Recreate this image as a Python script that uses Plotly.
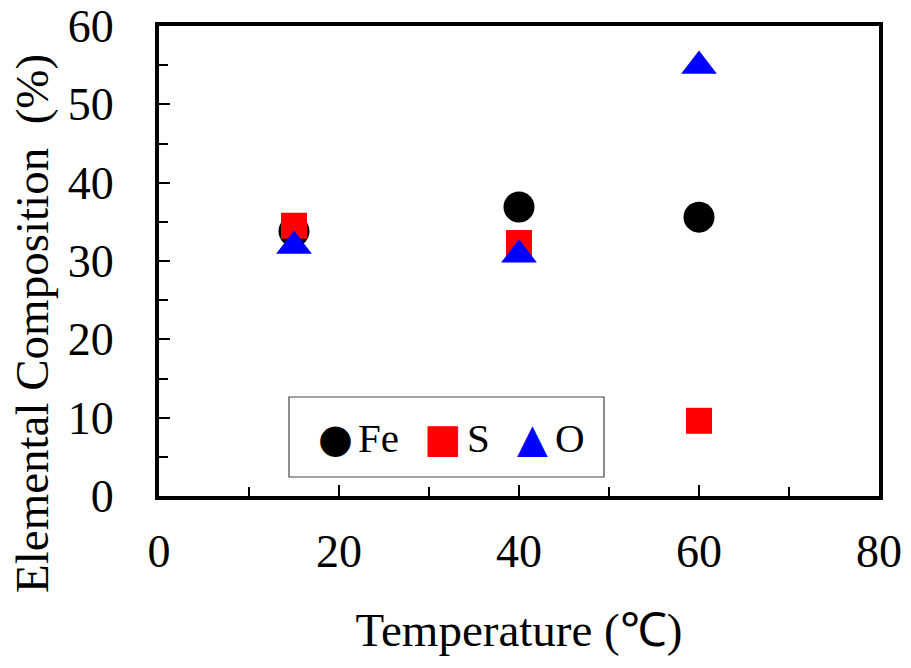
import plotly.graph_objects as go

temperature = [15, 40, 60]
fe = [33.8, 36.9, 35.6]
s = [34.5, 32.3, 9.6]
o = [31.9, 30.8, 54.9]
series_names = ["Fe", "S", "O"]
x_ticks = [0, 20, 40, 60, 80]
y_ticks = [0, 10, 20, 30, 40, 50, 60]
x_title = "Temperature (℃)"
y_title = "Elemental Composition \u00a0(%)"

colors = ["black", "#ff0000", "#0000ff"]
symbols = ["circle", "square", "triangle-up"]
sizes = [31, 26, 31]
glyphs = ["●", "■", "▲"]

fig = go.Figure()
for name, vals, c, sym, sz in zip(series_names, [fe, s, o], colors, symbols, sizes):
    fig.add_trace(go.Scatter(x=temperature, y=vals, mode="markers", name=name,
                             marker=dict(color=c, symbol=sym, size=sz, line=dict(width=0)),
                             showlegend=False))

font_family = "Liberation Serif, Times New Roman, serif"

fig.update_layout(
    width=911, height=668,
    margin=dict(l=159, r=32, t=26, b=172, autoexpand=False),
    paper_bgcolor="white", plot_bgcolor="white",
    font=dict(family=font_family, color="black", size=46),
)
fig.update_xaxes(range=[0, 80], tickvals=x_ticks, ticktext=[str(v) for v in x_ticks],
                 showline=True, linecolor="black", linewidth=4, mirror=True,
                 ticks="inside", ticklen=11, tickwidth=1.5, tickcolor="black",
                 minor=dict(dtick=10, ticks="inside", ticklen=9, tickwidth=1.5, tickcolor="black"),
                 showgrid=False, zeroline=False, ticklabelstandoff=12,
                 ticklabeloverflow="allow", automargin=False,
                 title=dict(text=x_title, font=dict(size=47), standoff=38),
                 tickfont=dict(size=46))
fig.update_yaxes(range=[0, 60], tickvals=y_ticks, ticktext=[str(v) for v in y_ticks],
                 showline=True, linecolor="black", linewidth=4, mirror=True,
                 ticks="inside", ticklen=11, tickwidth=1.5, tickcolor="black",
                 minor=dict(dtick=5, ticks="inside", ticklen=9, tickwidth=1.5, tickcolor="black"),
                 showgrid=False, zeroline=False, ticklabelstandoff=32,
                 ticklabeloverflow="allow", automargin=False,
                 tickfont=dict(size=46))

def px_x(px):
    return (px - 159) / 720

def px_y(py):
    return (496 - py) / 470

# y-axis title (offset from the axis centre, as in the reference)
fig.add_annotation(xref="paper", yref="paper", x=px_x(32), y=px_y(324),
                   xanchor="center", yanchor="middle", showarrow=False, textangle=-90,
                   text=y_title, font=dict(size=47, family=font_family, color="black"))

# custom legend box
fig.add_shape(type="rect", xref="paper", yref="paper",
              x0=px_x(289), x1=px_x(604), y0=px_y(477), y1=px_y(397),
              line=dict(color="#444", width=1.2), fillcolor="white", layer="above")
glyph_x = [335, 443, 532]
text_x = [356, 465, 553]
for name, c, g, gx, tx in zip(series_names, colors, glyphs, glyph_x, text_x):
    fig.add_annotation(xref="paper", yref="paper", x=px_x(gx), y=px_y(438),
                       xanchor="center", yanchor="middle", showarrow=False,
                       text=g, font=dict(size=40, color=c, family="DejaVu Sans"))
    fig.add_annotation(xref="paper", yref="paper", x=px_x(tx), y=px_y(438),
                       xanchor="left", yanchor="middle", showarrow=False,
                       text=name, font=dict(size=41, family=font_family, color="black"))

fig.write_html("out.html", config={"displayModeBar": False},
               post_script="document.body.style.margin='0px';document.body.style.overflow='hidden';")
